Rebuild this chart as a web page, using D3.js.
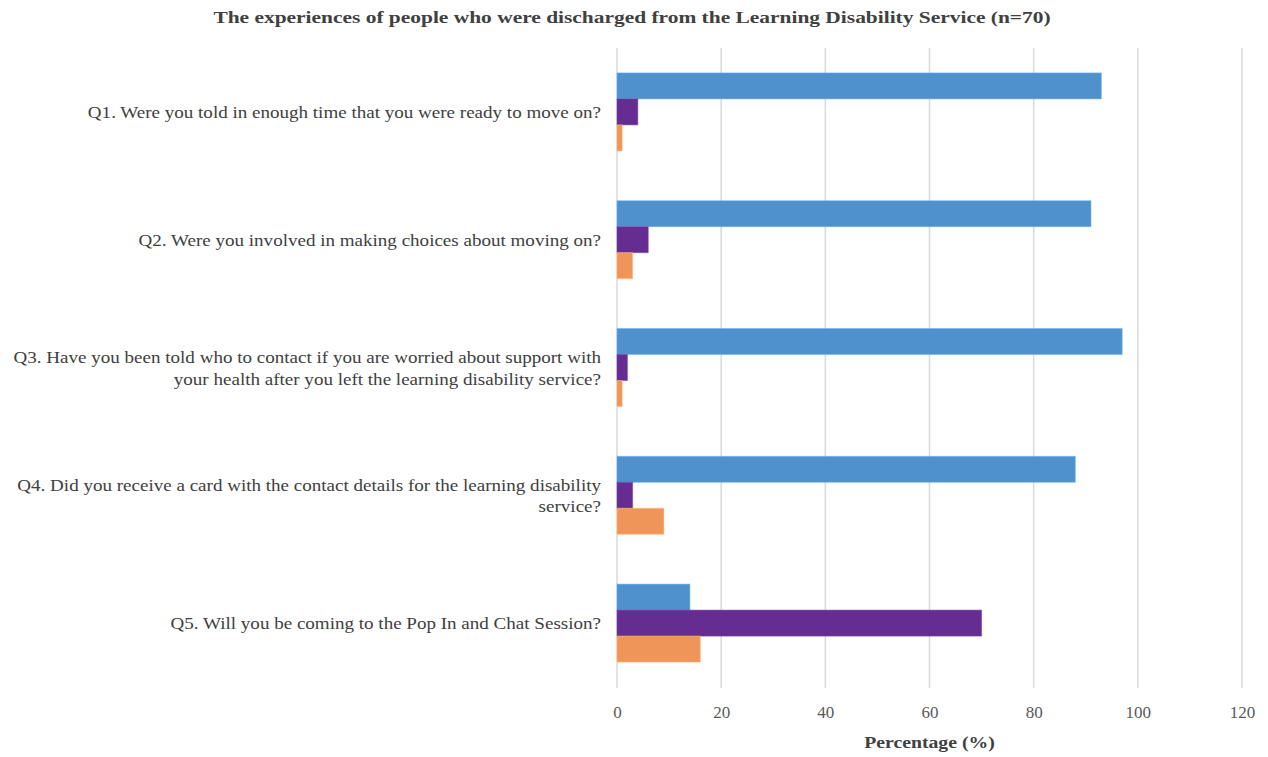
<!DOCTYPE html>
<meta charset="utf-8">
<script src="https://cdn.jsdelivr.net/npm/d3@7"></script>
<style>
body {margin: 0; background: #fff;}
svg text {font-family: "Liberation Serif", "DejaVu Serif", serif;}
</style>
<div id="vis"></div>
<script>
// questions (two-line labels split where the original wraps)
var questions = [
  ["Q1. Were you told in enough time that you were ready to move on?"],
  ["Q2. Were you involved in making choices about moving on?"],
  ["Q3. Have you been told who to contact if you are worried about support with", "your health after you left the learning disability service?"],
  ["Q4. Did you receive a card with the contact details for the learning disability", "service?"],
  ["Q5. Will you be coming to the Pop In and Chat Session?"]
];
var seriesNames = ["Yes", "No", "Not sure"];
var yesValues = [93, 91, 97, 88, 14];
var noValues = [4, 6, 2, 3, 70];
var notSureValues = [1, 3, 1, 9, 16];
var xTicks = [0, 20, 40, 60, 80, 100, 120];
var colors = ["#4f91cd", "#662d91", "#f0955a"];

var width = 1268, height = 757;
var margin = {top: 48, right: 26, bottom: 70, left: 617};

var svg = d3.select("#vis").append("svg")
    .attr("width", width)
    .attr("height", height);

// widen serif text a bit (the original face is wider than Liberation Serif)
function stretch(sel, k) {
  sel.each(function() {
    var len = this.getComputedTextLength();
    d3.select(this).attr("textLength", len * k).attr("lengthAdjust", "spacingAndGlyphs");
  });
}

var x = d3.scaleLinear()
    .domain([0, 120])
    .range([margin.left, width - margin.right]);

var y0 = d3.scaleBand()
    .domain(d3.range(questions.length))
    .range([margin.top, height - margin.bottom])
    .paddingInner(0.39)
    .paddingOuter(0.195);

var y1 = d3.scaleBand()
    .domain(d3.range(seriesNames.length))
    .range([0, y0.bandwidth()]);

var allValues = [yesValues, noValues, notSureValues];

// gridlines
svg.append("g")
  .selectAll("line")
  .data(xTicks)
  .enter().append("line")
    .attr("x1", function(d) { return x(d); })
    .attr("x2", function(d) { return x(d); })
    .attr("y1", margin.top)
    .attr("y2", height - margin.bottom + 1)
    .attr("stroke", "#d9d9d9")
    .attr("stroke-width", 1.5);

// bars
var groups = svg.append("g")
  .selectAll("g")
  .data(questions)
  .enter().append("g")
    .attr("transform", function(d, i) { return "translate(0," + y0(i) + ")"; });

groups.selectAll("rect")
  .data(function(d, i) { return allValues.map(function(s, j) { return {s: j, v: s[i]}; }); })
  .enter().append("rect")
    .attr("x", x(0))
    .attr("y", function(d) { return y1(d.s); })
    .attr("width", function(d) { return x(d.v) - x(0); })
    .attr("height", y1.bandwidth())
    .attr("fill", function(d) { return colors[d.s]; })
    .attr("stroke", function(d) { return d3.color(colors[d.s]).brighter(0.6); })
    .attr("stroke-opacity", 0.5)
    .attr("stroke-width", 1);

// category labels
var labels = svg.append("g")
  .selectAll("text")
  .data(questions)
  .enter().append("text")
    .attr("text-anchor", "end")
    .attr("fill", "#404040")
    .style("font-size", "17px")
    .attr("y", function(d, i) { return y0(i) + y0.bandwidth() / 2; });

var lines = labels.selectAll("tspan")
  .data(function(d) { return d; })
  .enter().append("tspan")
    .attr("x", 601)
    .attr("dy", function(d, i, nodes) {
      var n = nodes.length;
      return i === 0 ? (6 - (n - 1) * 10.5) + "px" : "21.5px";
    })
    .text(function(d) { return d; });
stretch(lines, 1.12);

// x axis tick labels
var xAxis = d3.axisBottom(x).tickValues(xTicks).tickSize(0).tickPadding(19);
var ax = svg.append("g")
    .attr("transform", "translate(0," + (height - margin.bottom) + ")")
    .call(xAxis);
ax.select(".domain").remove();
ax.selectAll("text")
    .attr("fill", "#595959")
    .style("font-size", "17px")
    .style("font-family", "'Liberation Serif', serif");

// axis title
svg.append("text")
    .attr("x", (x(0) + x(120)) / 2)
    .attr("y", 748)
    .attr("text-anchor", "middle")
    .attr("fill", "#404040")
    .style("font-size", "17px")
    .style("font-weight", "bold")
    .text("Percentage (%)")
    .call(stretch, 1.16);

// chart title
svg.append("text")
    .attr("x", 632)
    .attr("y", 23)
    .attr("text-anchor", "middle")
    .attr("fill", "#404040")
    .style("font-size", "17px")
    .style("font-weight", "bold")
    .text("The experiences of people who were discharged from the Learning Disability Service (n=70)")
    .call(stretch, 1.26);
</script>
